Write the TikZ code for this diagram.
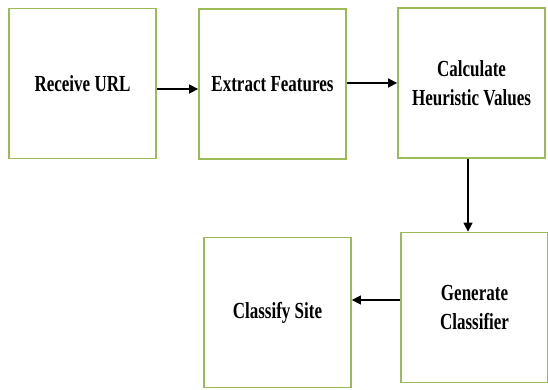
\documentclass[tikz,border=0pt]{standalone}
\usepackage{fontspec}
\setmainfont[FakeStretch=0.74]{Liberation Serif}
\usetikzlibrary{arrows.meta}
\definecolor{boxgreen}{RGB}{155,187,89}
\begin{document}
\begin{tikzpicture}[x=1pt,y=-1pt,
  stepbox/.style={draw=boxgreen,line width=1.8pt,fill=white,minimum width=147pt,minimum height=150pt,align=center,inner sep=0pt,font=\fontsize{23}{29}\selectfont\bfseries},
  conn/.style={draw=black,line width=1.5pt,-{Triangle[length=9pt,width=9pt]}}]
\useasboundingbox (0,0) rectangle (548,390);
\node[stepbox] (a) at (82.5,83.5) {Receive URL};
\node[stepbox] (b) at (272.5,84) {Extract Features};
\node[stepbox] (c) at (471.5,83) {Calculate\\Heuristic Values};
\node[stepbox] (d) at (277.5,312.5) {Classify Site};
\node[stepbox] (e) at (474.5,307.5) {Generate\\Classifier};
\draw[conn] ([yshift=-5.5pt]a.east) -- ([yshift=-5.5pt]a.east -| b.west);
\draw[conn] ([yshift=1pt]b.east) -- ([yshift=1pt]b.east -| c.west);
\draw[conn] ([xshift=-3.5pt]c.south) -- ([xshift=-3.5pt]c.south |- e.north);
\draw[conn] ([yshift=7.5pt]e.west) -- ([yshift=7.5pt]e.west -| d.east);
\end{tikzpicture}
\end{document}
